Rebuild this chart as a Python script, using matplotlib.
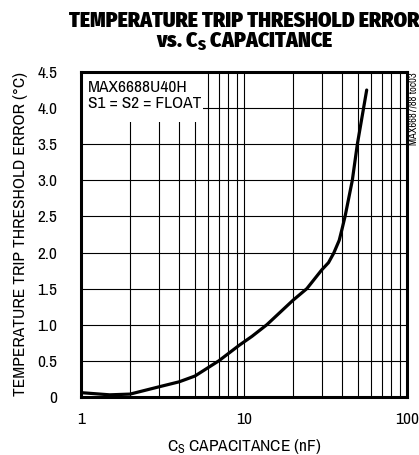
import matplotlib
matplotlib.use("Agg")
import matplotlib.pyplot as plt
import matplotlib.patches as mpatches
from matplotlib.ticker import FixedLocator, LogLocator, NullFormatter

# 字体设置 (窄体)
plt.rcParams["font.family"] = ["Archivo Narrow", "DejaVu Sans"]
plt.rcParams["mathtext.default"] = "regular"
title_font = ["Fira Sans Condensed", "Barlow Condensed", "DejaVu Sans"]

# 数据
cap_nf = [1.0, 1.5, 2.0, 3.0, 4.0, 5.0, 7.0, 9.4, 11.2, 13.8, 20.0, 24.3, 30.0,
          33.0, 35.5, 38.4, 40.0, 41.7, 46.2, 49.6, 56.6]
trip_error = [0.06, 0.03, 0.04, 0.14, 0.21, 0.29, 0.50, 0.72, 0.84, 1.00, 1.34,
              1.50, 1.76, 1.86, 1.99, 2.17, 2.33, 2.50, 3.00, 3.50, 4.25]

y_ticks = [0, 0.5, 1.0, 1.5, 2.0, 2.5, 3.0, 3.5, 4.0, 4.5]
y_tick_labels = ["0", "0.5", "1.0", "1.5", "2.0", "2.5", "3.0", "3.5", "4.0", "4.5"]
x_ticks = [1, 10, 100]
x_tick_labels = ["1", "10", "100"]

fig = plt.figure(figsize=(4.19, 4.55), dpi=100)
ax = fig.add_axes([0.1933, 0.1275, 0.778, 0.7143])

ax.set_xscale("log")
ax.set_xlim(1, 100)
ax.set_ylim(0, 4.5)

ax.plot(cap_nf, trip_error, color="black", lw=2.3, solid_capstyle="round",
        solid_joinstyle="round", zorder=4)

# 网格线
ax.xaxis.set_major_locator(FixedLocator(x_ticks))
ax.xaxis.set_minor_locator(LogLocator(base=10, subs=range(2, 10)))
ax.xaxis.set_minor_formatter(NullFormatter())
ax.set_xticks(x_ticks, x_tick_labels)
ax.set_yticks(y_ticks, y_tick_labels)
ax.grid(True, which="both", color="black", lw=0.8)
ax.tick_params(which="both", length=0)
ax.tick_params(axis="y", pad=17, labelsize=12.5)
ax.tick_params(axis="x", pad=11, labelsize=12.5)
for s in ax.spines.values():
    s.set_linewidth(2.2)

# 标注框
ax.add_patch(mpatches.Rectangle((0.003, 0.845), 0.37, 0.15, transform=ax.transAxes,
                                facecolor="white", edgecolor="none", zorder=2.5))
ax.text(0.02, 0.975, "MAX6688U40H\nS1 = S2 = FLOAT", transform=ax.transAxes,
        ha="left", va="top", fontsize=12.5, linespacing=1.1, zorder=3)

ax.set_xlabel("C$_{S}$ CAPACITANCE (nF)", fontsize=12.5, labelpad=7)
ax.set_ylabel("TEMPERATURE TRIP THRESHOLD ERROR (°C)", fontsize=12.5, labelpad=7)

# 标题
fig.text(0.583, 0.955, "TEMPERATURE TRIP THRESHOLD ERROR", ha="center", va="center",
         fontsize=15.5, fontweight="black", family=title_font)
fig.text(0.583, 0.908, "vs. C$_{S}$ CAPACITANCE", ha="center", va="center",
         fontsize=15.5, fontweight="black", family=title_font)

fig.text(0.987, 0.842, "MAX6687/88 toc03", rotation=90, ha="center", va="top",
         fontsize=7.5)

fig.savefig("out.png", dpi=100)
